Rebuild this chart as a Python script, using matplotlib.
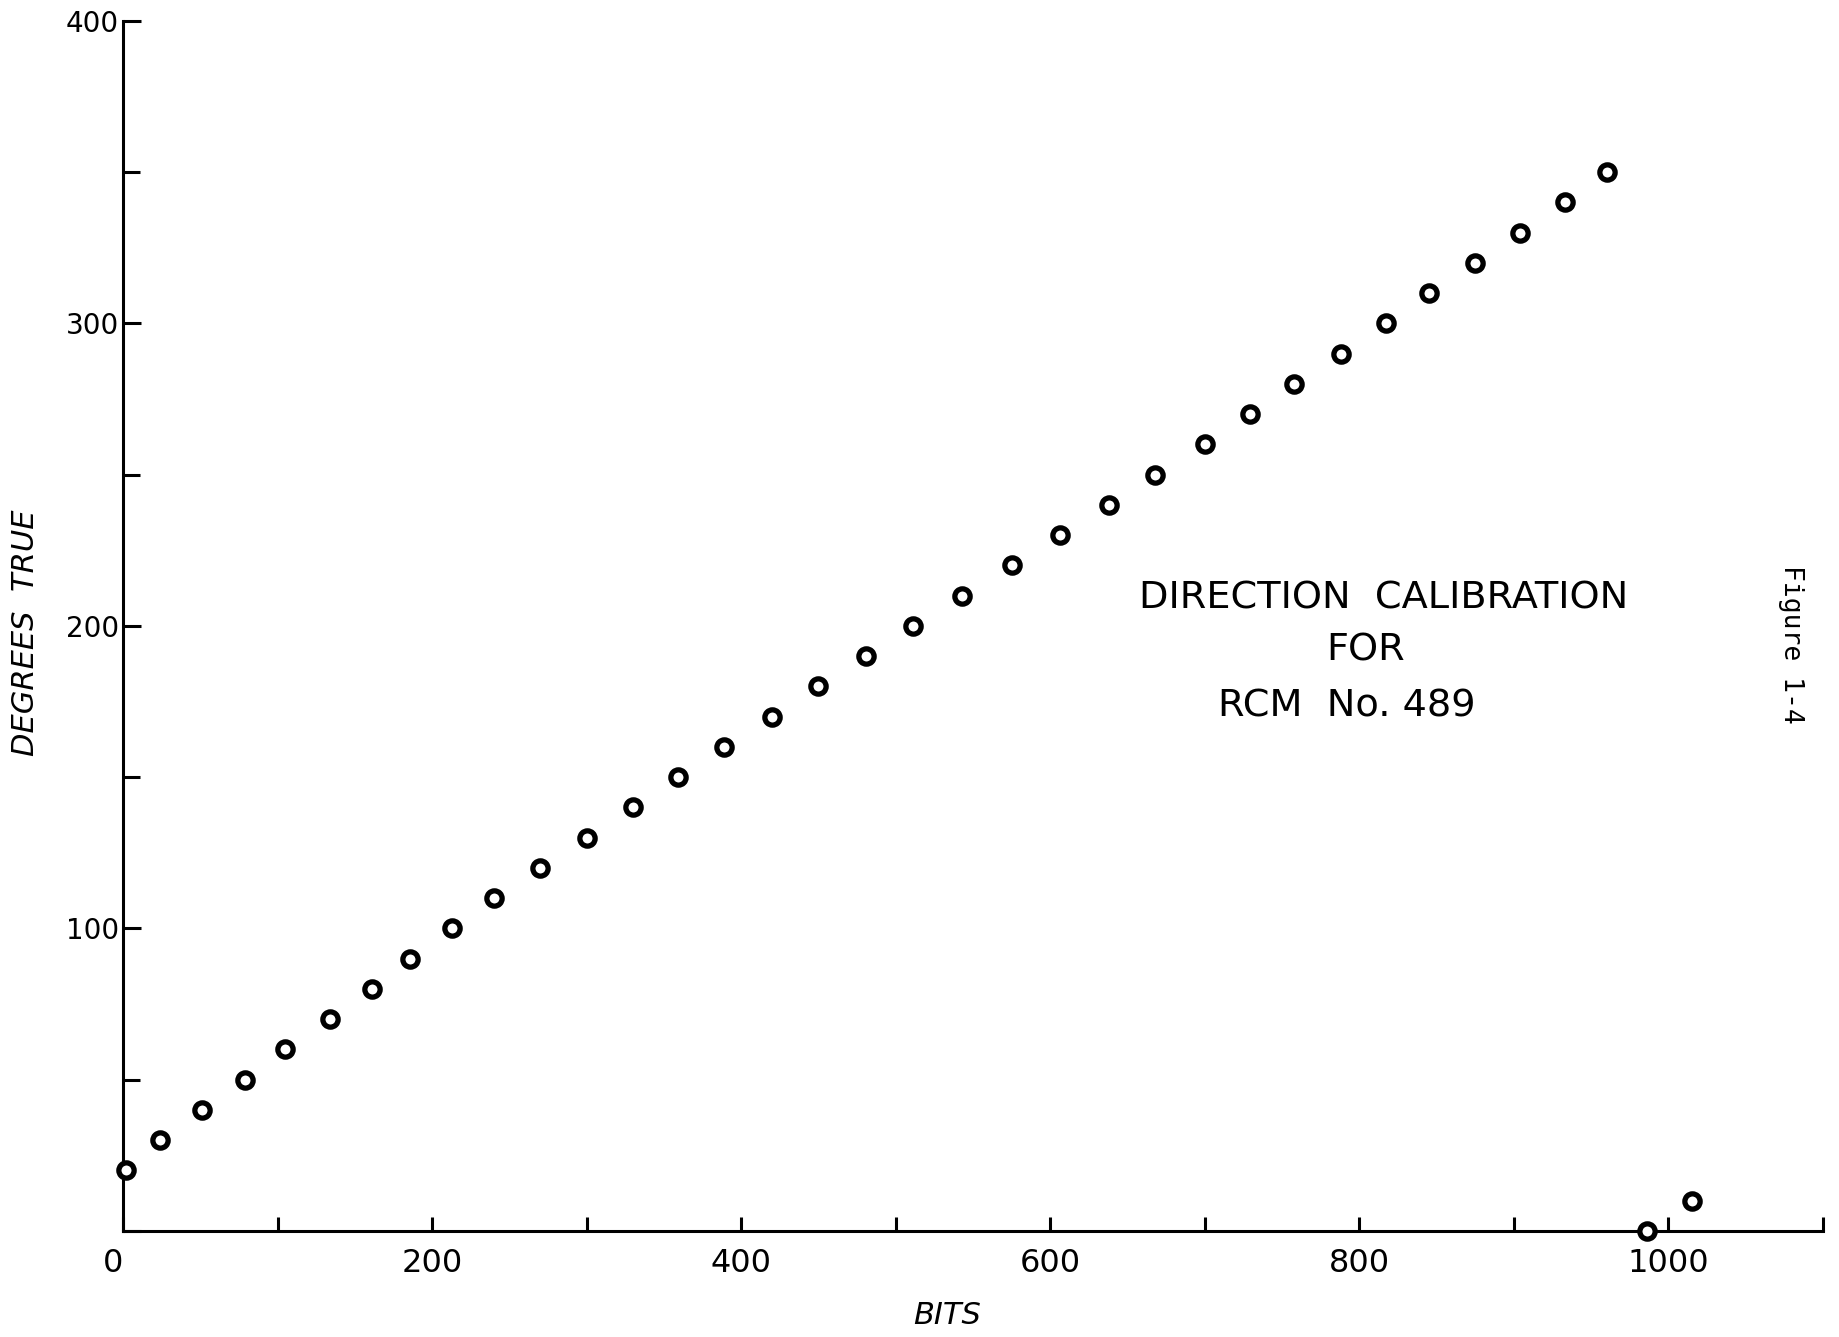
import matplotlib
matplotlib.use("Agg")
import matplotlib.pyplot as plt
from matplotlib.ticker import MultipleLocator

plt.rcParams['font.family'] = 'DejaVu Sans'

# calibration readings: rotor output (bits) against compass direction
bits = [2, 24, 51, 79, 105, 134, 161, 186, 213, 240, 270, 300, 330, 359,
        389, 420, 450, 481, 511, 543, 575, 606, 638, 668, 700, 729, 758,
        788, 817, 845, 875, 904, 933, 960, 986, 1015]
degrees = [20, 30, 40, 50, 60, 70, 80, 90, 100, 110, 120, 130, 140, 150,
           160, 170, 180, 190, 200, 210, 220, 230, 240, 250, 260, 270, 280,
           290, 300, 310, 320, 330, 340, 350, 0, 10]

x_ticks = list(range(0, 1101, 100))
x_labels = ['0', '', '200', '', '400', '', '600', '', '800', '', '1000', '']
y_ticks = [0, 100, 200, 300, 400]
y_labels = ['', '100', '200', '300', '400']

fig = plt.figure(figsize=(18.39, 13.37), dpi=100)
ax = fig.add_axes([0.0669, 0.0793, 0.9244, 0.905])

ax.plot(bits, degrees, linestyle='none', marker='o', markersize=11,
        markerfacecolor='white', markeredgecolor='black',
        markeredgewidth=3.8, clip_on=False, zorder=3)

ax.set_xlim(0, 1100)
ax.set_ylim(0, 400)

for side in ('top', 'right'):
    ax.spines[side].set_visible(False)
for side in ('left', 'bottom'):
    ax.spines[side].set_linewidth(2.2)

ax.set_xticks(x_ticks)
ax.set_xticklabels(x_labels)
ax.set_yticks(y_ticks)
ax.set_yticklabels(y_labels)
ax.yaxis.set_minor_locator(MultipleLocator(50))

ax.tick_params(axis='x', direction='in', length=10, width=2.2,
               labelsize=23, pad=12)
ax.tick_params(axis='y', which='both', direction='in', length=13, width=2.2,
               labelsize=20, pad=3)
ax.tick_params(axis='y', which='minor', length=12)

# the zero label sits a little left of the corner
ax.get_xticklabels()[0].set_horizontalalignment('right')

ax.set_xlabel('BITS', fontsize=22, fontstyle='italic')
ax.xaxis.label.set_va('center')
ax.xaxis.set_label_coords(0.485, -0.070)
ax.set_ylabel('DEGREES  TRUE', fontsize=22, fontstyle='italic')
ax.yaxis.label.set_va('center')
ax.yaxis.set_label_coords(-0.0575, 0.494)

ax.text(816, 209, 'DIRECTION  CALIBRATION', fontsize=27.5,
        ha='center', va='center')
ax.text(804, 192, 'FOR', fontsize=27.5, ha='center', va='center')
ax.text(792, 173.5, 'RCM  No. 489', fontsize=27.5, ha='center', va='center')

fig.text(0.974, 0.518, 'Figure 1-4', rotation=-90, fontsize=19,
         family='DejaVu Sans Mono', ha='center', va='center')

fig.savefig('out.png', dpi=100, facecolor='white')
